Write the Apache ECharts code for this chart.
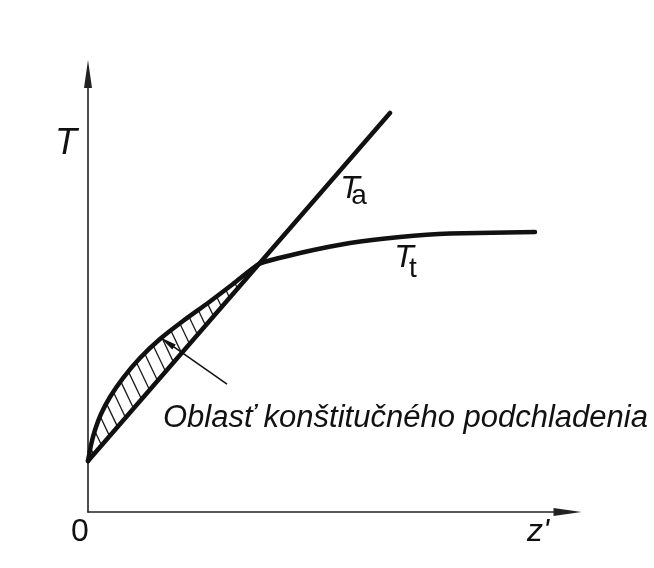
<!DOCTYPE html>
<html>
<head>
<meta charset="utf-8">
<script src="https://cdn.jsdelivr.net/npm/echarts@6/dist/echarts.min.js"></script>
<style>
  html, body { margin: 0; padding: 0; background: #ffffff; }
  #chart { width: 654px; height: 568px; }
</style>
</head>
<body>
<div id="chart"></div>
<script>
// Distance from the solidification front z' (relative units)
// Ta: actual temperature in the liquid (straight line)
const taZ = [0, 62.98];
const taT = [11.64, 91.10];
// Tt: liquidus temperature of the liquid ahead of the front
const ttZ = [0, 0.626, 1.460, 2.711, 4.588, 7.299, 10.845, 15.016, 19.812, 25.026, 30.240, 35.662, 44.213, 54.64, 65.068, 75.495, 93.222];
const ttT = [11.64, 15.30, 18.72, 22.37, 26.26, 30.59, 35.16, 39.50, 43.61, 47.72, 52.05, 56.62, 59.13, 61.42, 62.79, 63.58, 63.93];
// Tt point where both curves cross (end of the undercooled zone)
const crossIndex = 11;

const regionLabel = 'Oblasť konštitučného podchladenia';
const axisNameT = 'T';
const axisNameZ = "z'";
const originLabel = '0';

const INK = '#111111';
const chart = echarts.init(document.getElementById('chart'), null, { renderer: 'canvas' });

function pairs(xs, ys) { return xs.map((x, i) => [x, ys[i]]); }

// Hatching of the area between Tt (above) and Ta (below)
function renderHatch(params, api) {
  const upper = [];
  for (let i = 0; i <= crossIndex; i++) upper.push(api.coord([ttZ[i], ttT[i]]));
  const a0 = api.coord([taZ[0], taT[0]]);
  const a1 = api.coord([taZ[1], taT[1]]);
  const cross = upper[upper.length - 1];
  const dx = -1, dy = -2.1;       // stroke direction, up and to the left
  const step = 8;                 // spacing of strokes along the screen x
  const children = [];
  for (let x = a0[0] + step * 0.7; x < cross[0] - 2; x += step) {
    const t = (x - a0[0]) / (a1[0] - a0[0]);
    const px = x, py = a0[1] + t * (a1[1] - a0[1]);
    let hit = null;
    for (let i = 0; i < upper.length - 1; i++) {
      const p = upper[i], q = upper[i + 1];
      const ex = q[0] - p[0], ey = q[1] - p[1];
      const den = dx * ey - dy * ex;
      if (Math.abs(den) < 1e-9) continue;
      const wx = p[0] - px, wy = p[1] - py;
      const s = (wx * ey - wy * ex) / den;
      const u = (wx * dy - wy * dx) / den;
      if (u >= 0 && u <= 1 && s > 0) { hit = [px + s * dx, py + s * dy]; break; }
    }
    if (hit) {
      children.push({
        type: 'line',
        shape: { x1: px, y1: py, x2: hit[0], y2: hit[1] },
        style: { stroke: '#1a1a1a', lineWidth: 1.3 }
      });
    }
  }
  return { type: 'group', children: children };
}

const labelFont = "'Liberation Sans Narrow', 'Liberation Sans', Arial, sans-serif";

const option = {
  backgroundColor: '#ffffff',
  animation: false,
  grid: { left: 88, right: 86.5, top: 74, bottom: 56, containLabel: false },
  xAxis: {
    type: 'value', min: 0, max: 100,
    axisLine: { show: true, onZero: false, symbol: ['none', 'triangle'], symbolSize: [8, 28],
      lineStyle: { color: '#222222', width: 1.6 } },
    axisTick: { show: false }, axisLabel: { show: false }, splitLine: { show: false }
  },
  yAxis: {
    type: 'value', min: 0, max: 100,
    axisLine: { show: true, onZero: false, symbol: ['none', 'triangle'], symbolSize: [8, 28],
      lineStyle: { color: '#222222', width: 1.6 } },
    axisTick: { show: false }, axisLabel: { show: false }, splitLine: { show: false }
  },
  series: [
    {
      type: 'custom',
      coordinateSystem: 'cartesian2d',
      data: [[0, 0]],
      renderItem: renderHatch,
      clip: false,
      silent: true,
      z: 1
    },
    {
      name: 'Ta',
      type: 'line',
      data: pairs(taZ, taT),
      symbol: 'none',
      lineStyle: { color: INK, width: 4.5, cap: 'round' },
      silent: true,
      z: 3,
      markLine: {
        silent: true,
        animation: false,
        label: { show: false },
        lineStyle: { color: INK, width: 1.5, type: 'solid' },
        data: [[
          { coord: [28.99, 29.22], symbol: 'none' },
          { coord: [16.48, 38.8], symbol: 'triangle', symbolSize: [6, 17] }
        ]]
      }
    },
    {
      name: 'Tt',
      type: 'line',
      data: pairs(ttZ, ttT),
      smooth: 0.15,
      symbol: 'none',
      lineStyle: { color: INK, width: 4.5, cap: 'round', join: 'round' },
      silent: true,
      z: 3
    }
  ],
  graphic: [
    { type: 'text', x: 66, y: 144, style: { text: axisNameT, font: "italic 36px " + labelFont, fill: INK, align: 'center', verticalAlign: 'middle' } },
    { type: 'text', x: 80, y: 532, style: { text: originLabel, font: "32px " + labelFont, fill: INK, align: 'center', verticalAlign: 'middle' } },
    { type: 'text', x: 538, y: 532, style: { text: axisNameZ, font: "italic 32px " + labelFont, fill: INK, align: 'center', verticalAlign: 'middle' } },
    { type: 'text', x: 350, y: 189, style: { text: 'T', font: "italic 32px " + labelFont, fill: INK, align: 'center', verticalAlign: 'middle' } },
    { type: 'text', x: 359, y: 196, style: { text: 'a', font: "28px " + labelFont, fill: INK, align: 'center', verticalAlign: 'middle' } },
    { type: 'text', x: 404, y: 258, style: { text: 'T', font: "italic 32px " + labelFont, fill: INK, align: 'center', verticalAlign: 'middle' } },
    { type: 'text', x: 413, y: 269, style: { text: 't', font: "28px " + labelFont, fill: INK, align: 'center', verticalAlign: 'middle' } },
    { type: 'text', x: 163, y: 418, style: { text: regionLabel, font: "italic 31px 'Liberation Sans', Arial, sans-serif", fill: INK, align: 'left', verticalAlign: 'middle' } }
  ]
};

chart.setOption(option);
</script>
</body>
</html>
